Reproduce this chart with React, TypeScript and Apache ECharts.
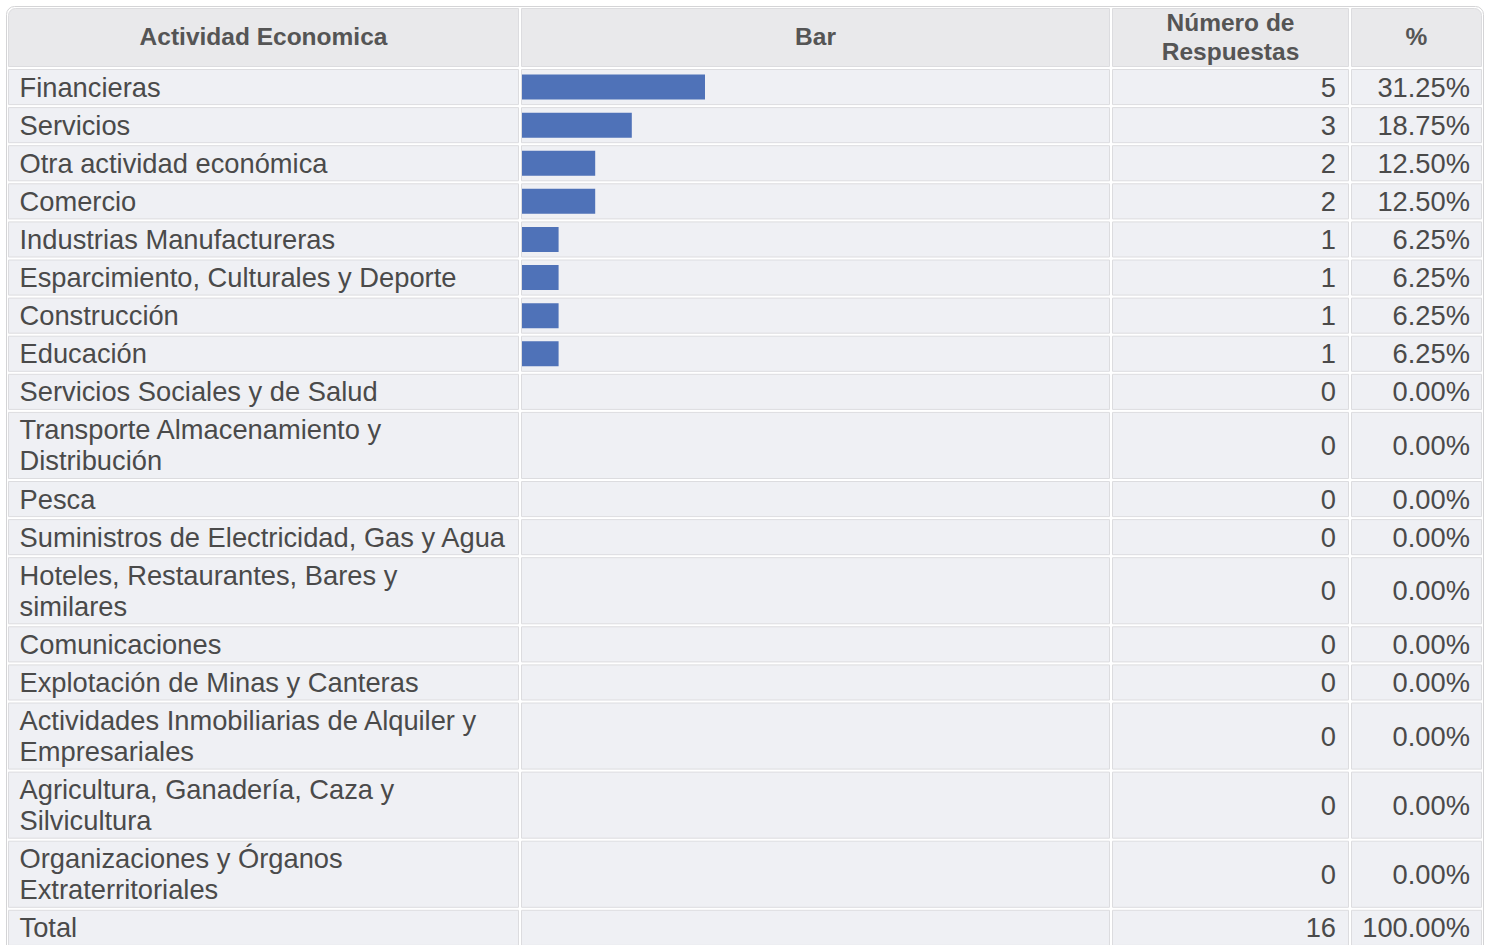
import React, { useEffect, useRef } from 'react';
import * as echarts from 'echarts';

// ---- data ----
const headers = ['Actividad Economica', 'Bar', 'Número de Respuestas', '%'];
const categories = [
  'Financieras',
  'Servicios',
  'Otra actividad económica',
  'Comercio',
  'Industrias Manufactureras',
  'Esparcimiento, Culturales y Deporte',
  'Construcción',
  'Educación',
  'Servicios Sociales y de Salud',
  'Transporte Almacenamiento y Distribución',
  'Pesca',
  'Suministros de Electricidad, Gas y Agua',
  'Hoteles, Restaurantes, Bares y similares',
  'Comunicaciones',
  'Explotación de Minas y Canteras',
  'Actividades Inmobiliarias de Alquiler y Empresariales',
  'Agricultura, Ganadería, Caza y Silvicultura',
  'Organizaciones y Órganos Extraterritoriales',
];
const counts = [5, 3, 2, 2, 1, 1, 1, 1, 0, 0, 0, 0, 0, 0, 0, 0, 0, 0];
const percents = [
  '31.25%', '18.75%', '12.50%', '12.50%', '6.25%', '6.25%', '6.25%', '6.25%',
  '0.00%', '0.00%', '0.00%', '0.00%', '0.00%', '0.00%', '0.00%', '0.00%', '0.00%', '0.00%',
];
const totalLabel = 'Total';
const totalCount = 16;
const totalPercent = '100.00%';

// ---- layout / style ----
const W = 1494;
const H = 945;
const FONT = '"Liberation Sans", Arial, Helvetica, sans-serif';
const cols = [
  { x: 8, w: 511 },
  { x: 521, w: 589 },
  { x: 1112, w: 237 },
  { x: 1351, w: 131 },
];
const HEADER_TOP = 8;
const HEADER_H = 59;
const BODY_TOP = 69;
const LINE_H = 31;
const ROW_PAD = 7.1;
const GAP = 2;
const BODY_SIZE = 27.3;
const HEAD_SIZE = 24.5;
const PAD = 11.5;
const WRAP_W = 490;
const BAR_LEFT = 522;
const UNIT_PX = 36.6;
const BAR_H = 25;
const HEAD_BG = '#e9e9eb';
const BODY_BG = '#eff0f4';
const CELL_STROKE = '#dcdcdf';
const BODY_TEXT = '#4a4a4a';
const HEAD_TEXT = '#555555';
const BAR_COLOR = '#4f72b8';

function wrap(text: string, font: string, maxW: number): string[] {
  const ctx = document.createElement('canvas').getContext('2d')!;
  ctx.font = font;
  const words = text.split(' ');
  const lines: string[] = [];
  let cur = '';
  for (const w of words) {
    const t = cur ? cur + ' ' + w : w;
    if (cur && ctx.measureText(t).width > maxW) {
      lines.push(cur);
      cur = w;
    } else cur = t;
  }
  if (cur) lines.push(cur);
  return lines;
}

export default function App() {
  const ref = useRef<HTMLDivElement>(null);

  useEffect(() => {
    if (!ref.current) return;
    const chart = echarts.init(ref.current, undefined, { renderer: 'svg' });

    const bodyFont = `${BODY_SIZE}px ${FONT}`;
    const headFont = `bold ${HEAD_SIZE}px ${FONT}`;

    const rows = categories.map((c, i) => ({
      label: c,
      count: String(counts[i]),
      pct: percents[i],
    }));
    rows.push({ label: totalLabel, count: String(totalCount), pct: totalPercent });

    const graphics: any[] = [];
    // outer container
    graphics.push({
      type: 'rect',
      z: 0,
      shape: { x: 6.5, y: 6.5, width: 1477, height: 1100, r: 8 },
      style: { fill: '#ffffff', stroke: '#d4d4d6', lineWidth: 1 },
    });

    // header
    headers.forEach((h, ci) => {
      const c = cols[ci];
      const r = ci === 0 ? [7, 0, 0, 0] : ci === cols.length - 1 ? [0, 7, 0, 0] : 0;
      graphics.push({
        type: 'rect',
        z: 1,
        shape: { x: c.x + 0.5, y: HEADER_TOP + 0.5, width: c.w - 1, height: HEADER_H - 1, r },
        style: { fill: HEAD_BG, stroke: CELL_STROKE, lineWidth: 1 },
      });
      const lines = wrap(h, headFont, c.w - 2 * 12);
      graphics.push({
        type: 'text',
        z: 2,
        x: c.x + c.w / 2,
        y: HEADER_TOP + HEADER_H / 2 - 1,
        style: {
          text: lines.join('\n'),
          fill: HEAD_TEXT,
          fontSize: HEAD_SIZE,
          fontWeight: 'bold',
          fontFamily: FONT,
          lineHeight: 29,
          align: 'center',
          verticalAlign: 'middle',
        },
      });
    });

    // body
    const rowCenters: number[] = [];
    let cum = BODY_TOP;
    rows.forEach((row) => {
      const lines = wrap(row.label, bodyFont, WRAP_W);
      const pitch = lines.length * LINE_H + ROW_PAD;
      const hgt = pitch - GAP;
      const yc = cum + hgt / 2;
      rowCenters.push(yc);
      cols.forEach((c) => {
        graphics.push({
          type: 'rect',
          z: 1,
          shape: { x: c.x + 0.5, y: cum + 0.5, width: c.w - 1, height: hgt - 1 },
          style: { fill: BODY_BG, stroke: CELL_STROKE, lineWidth: 1 },
        });
      });
      const textBase = {
        fill: BODY_TEXT,
        fontSize: BODY_SIZE,
        fontFamily: FONT,
        lineHeight: LINE_H,
        verticalAlign: 'middle',
      };
      graphics.push({
        type: 'text',
        z: 2,
        x: cols[0].x + PAD,
        y: yc,
        style: { ...textBase, text: lines.join('\n'), align: 'left' },
      });
      graphics.push({
        type: 'text',
        z: 2,
        x: cols[2].x + cols[2].w - 13,
        y: yc,
        style: { ...textBase, text: row.count, align: 'right' },
      });
      graphics.push({
        type: 'text',
        z: 2,
        x: cols[3].x + cols[3].w - 12,
        y: yc,
        style: { ...textBase, text: row.pct, align: 'right' },
      });
      cum += pitch;
    });

    chart.setOption({
      animation: false,
      graphic: graphics,
      grid: { left: BAR_LEFT, top: 0, width: UNIT_PX * totalCount, height: H },
      xAxis: { type: 'value', min: 0, max: totalCount, show: false },
      yAxis: { type: 'value', min: 0, max: H, inverse: true, show: false },
      series: [
        {
          type: 'custom',
          z: 10,
          silent: true,
          data: counts.map((v, i) => [v, i]),
          renderItem: (params: any, api: any) => {
            const v = api.value(0);
            const i = api.value(1);
            const yc = rowCenters[i];
            if (!v) return { type: 'group', children: [] };
            const p0 = api.coord([0, yc]);
            const p1 = api.coord([v, yc]);
            return {
              type: 'rect',
              shape: { x: p0[0], y: p0[1] - BAR_H / 2, width: p1[0] - p0[0], height: BAR_H },
              style: { fill: BAR_COLOR },
            };
          },
        },
      ],
    });

    return () => chart.dispose();
  }, []);

  return (
    <div
      ref={ref}
      style={{ position: 'absolute', left: 0, top: 0, width: W, height: H, background: '#ffffff' }}
    />
  );
}
